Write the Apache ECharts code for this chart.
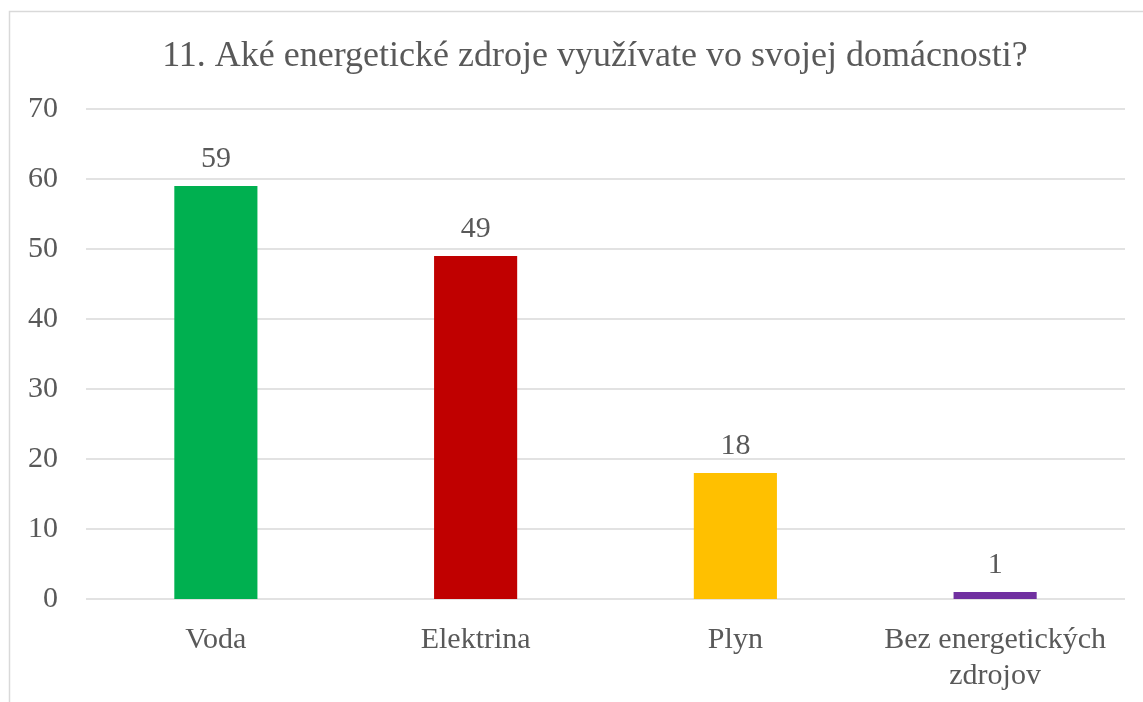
<!DOCTYPE html>
<html>
<head>
<meta charset="utf-8">
<script src="https://cdn.jsdelivr.net/npm/echarts@6/dist/echarts.min.js"></script>
<style>
html,body{margin:0;padding:0;background:#fff;}
#main{width:1143px;height:702px;}
</style>
</head>
<body>
<div id="main"></div>
<script>
var categories = ['Voda', 'Elektrina', 'Plyn', 'Bez energetických\nzdrojov'];
var values = [59, 49, 18, 1];
var barColors = ['#00B050', '#C00000', '#FFC000', '#7030A0'];
var yTicks = [0, 10, 20, 30, 40, 50, 60, 70];

var txt = '#595959';
var font = '"Liberation Serif", "Times New Roman", serif';

var myChart = echarts.init(document.getElementById('main'));
var option = {
	animation: false,
	title: {
		text: '11. Aké energetické zdroje využívate vo svojej domácnosti?',
		left: 590,
		textAlign: 'center',
		top: 34,
		textStyle: {color: txt, fontFamily: font, fontSize: 36, fontWeight: 'normal'}
	},
	graphic: [{
		type: 'rect',
		shape: {x: 9.5, y: 11.5, width: 1300, height: 900},
		style: {fill: 'none', stroke: '#d9d9d9', lineWidth: 1.5},
		silent: true
	}],
	grid: {left: 86, right: 18, top: 109, bottom: 103},
	xAxis: {
		type: 'category',
		data: categories,
		axisLine: {show: false},
		axisTick: {show: false},
		axisLabel: {color: txt, fontFamily: font, fontSize: 30, margin: 23, lineHeight: 36, interval: 0}
	},
	yAxis: {
		type: 'value',
		min: yTicks[0],
		max: yTicks[yTicks.length - 1],
		interval: 10,
		axisLine: {show: false},
		axisTick: {show: false},
		axisLabel: {color: txt, fontFamily: font, fontSize: 30, margin: 28},
		splitLine: {lineStyle: {color: '#d9d9d9', width: 1.5}}
	},
	series: [{
		type: 'bar',
		barWidth: '32%',
		data: values.map(function (v, i) {
			return {value: v, itemStyle: {color: barColors[i]}};
		}),
		label: {
			show: true,
			position: 'top',
			distance: 12,
			color: txt,
			fontFamily: font,
			fontSize: 30
		}
	}]
};
myChart.setOption(option);
</script>
</body>
</html>
